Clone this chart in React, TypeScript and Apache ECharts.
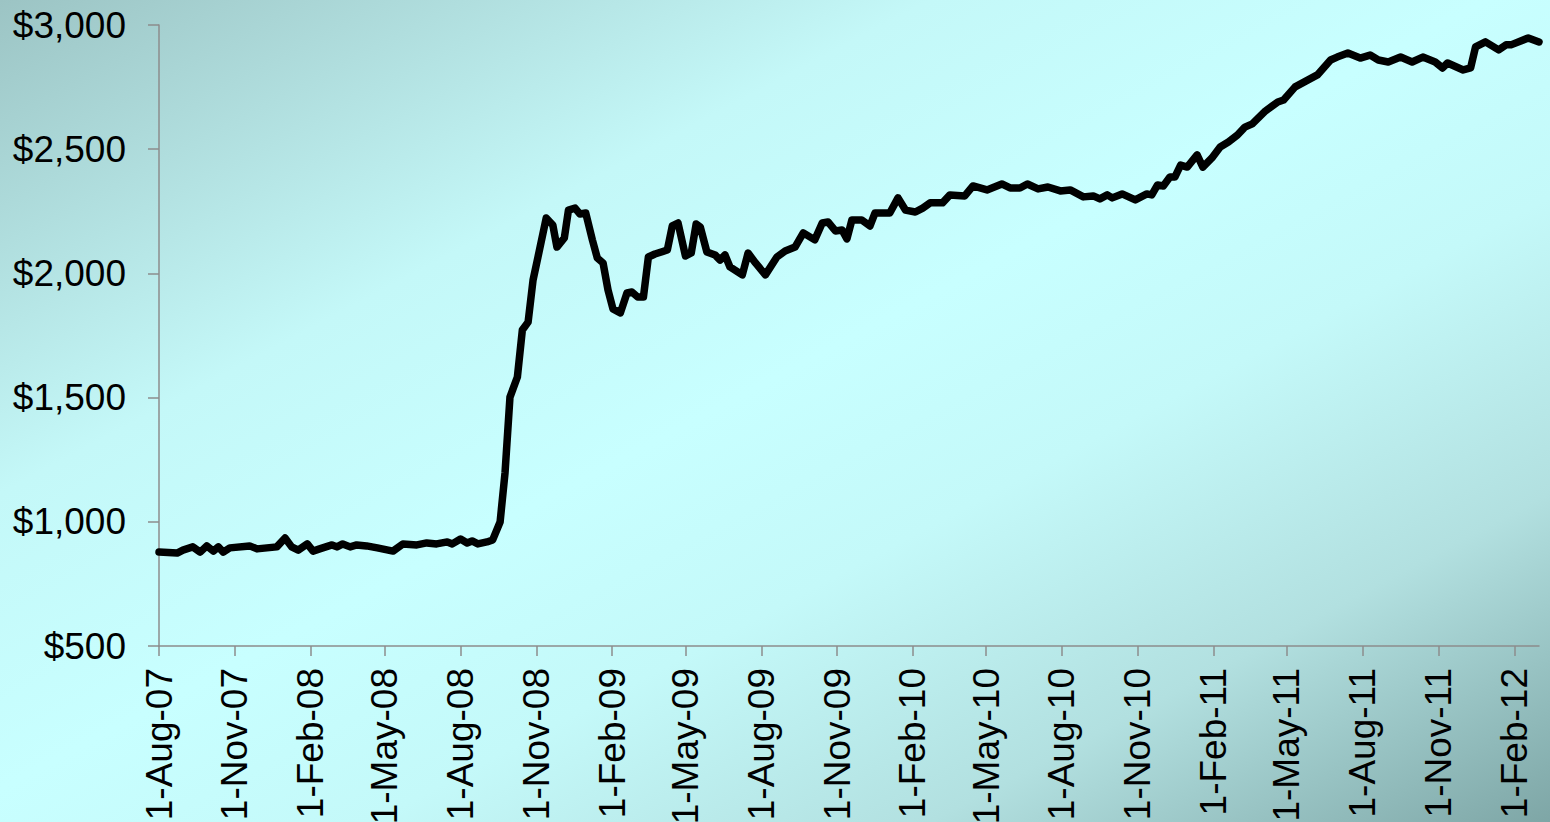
import React, { useEffect, useRef } from "react";
import * as echarts from "echarts";

// Price series (date, USD)
const dates: string[] = [
  "2007-08-01","2007-08-23","2007-08-30","2007-09-11","2007-09-20","2007-09-28","2007-10-06","2007-10-12","2007-10-18","2007-10-26",
  "2007-11-19","2007-11-28","2007-12-22","2008-01-01","2008-01-09","2008-01-17","2008-01-28","2008-02-04","2008-02-12","2008-02-27",
  "2008-03-04","2008-03-11","2008-03-20","2008-03-28","2008-04-09","2008-04-22","2008-05-11","2008-05-23","2008-06-09","2008-06-21",
  "2008-07-03","2008-07-16","2008-07-22","2008-08-01","2008-08-09","2008-08-15","2008-08-22","2008-09-02","2008-09-09","2008-09-18",
  "2008-09-24","2008-09-30","2008-10-09","2008-10-15","2008-10-22","2008-10-28","2008-11-03","2008-11-13","2008-11-21","2008-11-26",
  "2008-12-05","2008-12-10","2008-12-18","2008-12-24","2008-12-31","2009-01-08","2009-01-14","2009-01-21","2009-01-27","2009-02-02",
  "2009-02-11","2009-02-19","2009-02-25","2009-03-04","2009-03-11","2009-03-17","2009-03-25","2009-04-09","2009-04-15","2009-04-22",
  "2009-05-01","2009-05-08","2009-05-14","2009-05-19","2009-05-27","2009-06-06","2009-06-12","2009-06-18","2009-06-24","2009-07-09",
  "2009-07-16","2009-07-25","2009-08-06","2009-08-20","2009-08-30","2009-09-11","2009-09-21","2009-10-05","2009-10-14","2009-10-21",
  "2009-10-30","2009-11-07","2009-11-13","2009-11-19","2009-12-01","2009-12-11","2009-12-17","2010-01-04","2010-01-14","2010-01-23",
  "2010-02-04","2010-02-13","2010-02-22","2010-03-09","2010-03-18","2010-04-05","2010-04-15","2010-05-02","2010-05-20","2010-05-30",
  "2010-06-11","2010-06-20","2010-07-03","2010-07-15","2010-07-30","2010-08-11","2010-08-27","2010-09-08","2010-09-16","2010-09-25",
  "2010-10-01","2010-10-13","2010-10-29","2010-11-12","2010-11-18","2010-11-25","2010-12-02","2010-12-10","2010-12-16","2010-12-23",
  "2010-12-31","2011-01-12","2011-01-19","2011-01-30","2011-02-09","2011-02-19","2011-03-02","2011-03-11","2011-03-20","2011-04-05",
  "2011-04-20","2011-04-27","2011-05-11","2011-05-29","2011-06-07","2011-06-23","2011-07-01","2011-07-14","2011-07-29","2011-08-10",
  "2011-08-20","2011-09-01","2011-09-16","2011-09-30","2011-10-13","2011-10-28","2011-11-06","2011-11-12","2011-12-01","2011-12-10",
  "2011-12-16","2011-12-28","2012-01-13","2012-01-22","2012-01-28","2012-02-18","2012-03-02",
];

const prices: number[] = [
  878, 874, 886, 899, 878, 903, 882, 899, 878, 895,
  903, 891, 899, 935, 899, 886, 911, 882, 891, 907,
  899, 911, 899, 907, 903, 895, 882, 911, 907, 915,
  911, 919, 911, 931, 915, 923, 911, 919, 927, 999,
  1197, 1502, 1583, 1772, 1804, 1973, 2066, 2223, 2195, 2106,
  2143, 2255, 2263, 2239, 2243, 2135, 2062, 2042, 1933, 1857,
  1841, 1921, 1925, 1905, 1905, 2066, 2078, 2094, 2191, 2203,
  2070, 2082, 2199, 2187, 2086, 2074, 2054, 2074, 2026, 1994,
  2082, 2042, 1994, 2066, 2090, 2106, 2163, 2135, 2203, 2207,
  2171, 2175, 2139, 2215, 2215, 2191, 2243, 2243, 2304, 2255,
  2247, 2263, 2284, 2284, 2316, 2312, 2352, 2336, 2360, 2344,
  2344, 2360, 2340, 2348, 2332, 2336, 2308, 2312, 2300, 2316,
  2304, 2320, 2296, 2320, 2316, 2356, 2352, 2388, 2388, 2436,
  2428, 2477, 2428, 2465, 2509, 2529, 2557, 2589, 2602, 2654,
  2690, 2698, 2751, 2783, 2799, 2859, 2871, 2887, 2867, 2879,
  2859, 2851, 2871, 2851, 2871, 2851, 2827, 2847, 2819, 2827,
  2912, 2932, 2900, 2920, 2920, 2948, 2932,
];

// Axis ticks
const tickDates: string[] = [
  "2007-08-01","2007-11-01","2008-02-01","2008-05-01","2008-08-01","2008-11-01",
  "2009-02-01","2009-05-01","2009-08-01","2009-11-01","2010-02-01","2010-05-01",
  "2010-08-01","2010-11-01","2011-02-01","2011-05-01","2011-08-01","2011-11-01","2012-02-01",
];
const tickLabels: string[] = [
  "1-Aug-07","1-Nov-07","1-Feb-08","1-May-08","1-Aug-08","1-Nov-08",
  "1-Feb-09","1-May-09","1-Aug-09","1-Nov-09","1-Feb-10","1-May-10",
  "1-Aug-10","1-Nov-10","1-Feb-11","1-May-11","1-Aug-11","1-Nov-11","1-Feb-12",
];
const xMinDate = "2007-08-01";
const xMaxDate = "2012-03-02";
const yMin = 500;
const yMax = 3000;
const yStep = 500;

const ts = (s: string) => {
  const [y, m, d] = s.split("-").map(Number);
  return Date.UTC(y, m - 1, d);
};

export default function App() {
  const ref = useRef<HTMLDivElement>(null);

  useEffect(() => {
    if (!ref.current) return;
    const chart = echarts.init(ref.current, undefined, { renderer: "svg" });
    const tickTs = tickDates.map(ts);
    const font = "'Liberation Sans', Arial, sans-serif";
    chart.setOption({
      animation: false,
      backgroundColor: "transparent",
      grid: { left: 159, top: 25, right: 11, bottom: 176, containLabel: false, outerBoundsMode: "none" },
      xAxis: {
        type: "value",
        min: ts(xMinDate),
        max: ts(xMaxDate),
        splitLine: { show: false },
        axisLine: { show: true, lineStyle: { color: "#8c8c8c", width: 1.5 } },
        axisTick: {
          show: true,
          length: 10,
          inside: false,
          customValues: tickTs,
          lineStyle: { color: "#8c8c8c", width: 1.5 },
        },
        axisLabel: {
          customValues: tickTs,
          rotate: 90,
          margin: 22,
          color: "#000",
          fontSize: 37,
          fontFamily: font,
          hideOverlap: false,
          showMinLabel: true,
          showMaxLabel: true,
          formatter: (v: number) => {
            const i = tickTs.indexOf(v);
            return i >= 0 ? tickLabels[i] : "";
          },
        },
      },
      yAxis: {
        type: "value",
        min: yMin,
        max: yMax,
        interval: yStep,
        splitLine: { show: false },
        axisLine: { show: true, lineStyle: { color: "#8c8c8c", width: 1.5 } },
        axisTick: { show: true, length: 11, inside: false, lineStyle: { color: "#8c8c8c", width: 1.5 } },
        axisLabel: {
          margin: 33,
          color: "#000",
          fontSize: 37,
          fontFamily: font,
          formatter: (v: number) => "$" + v.toLocaleString("en-US"),
        },
      },
      series: [
        {
          type: "line",
          data: dates.map((d, i) => [ts(d), prices[i]]),
          showSymbol: false,
          symbol: "none",
          lineStyle: { color: "#000", width: 7.5, join: "round", cap: "round" },
        },
      ],
    });
    return () => chart.dispose();
  }, []);

  return (
    <div
      ref={ref}
      style={{
        position: "absolute",
        left: 0,
        top: 0,
        width: 1550,
        height: 822,
        background:
          "linear-gradient(to bottom right, #9cc4c4 0%, #c4f8f8 30%, #c8ffff 48%, #c4f9f9 62%, #b2e0e0 80%, #7ea6a6 100%)",
      }}
    />
  );
}
